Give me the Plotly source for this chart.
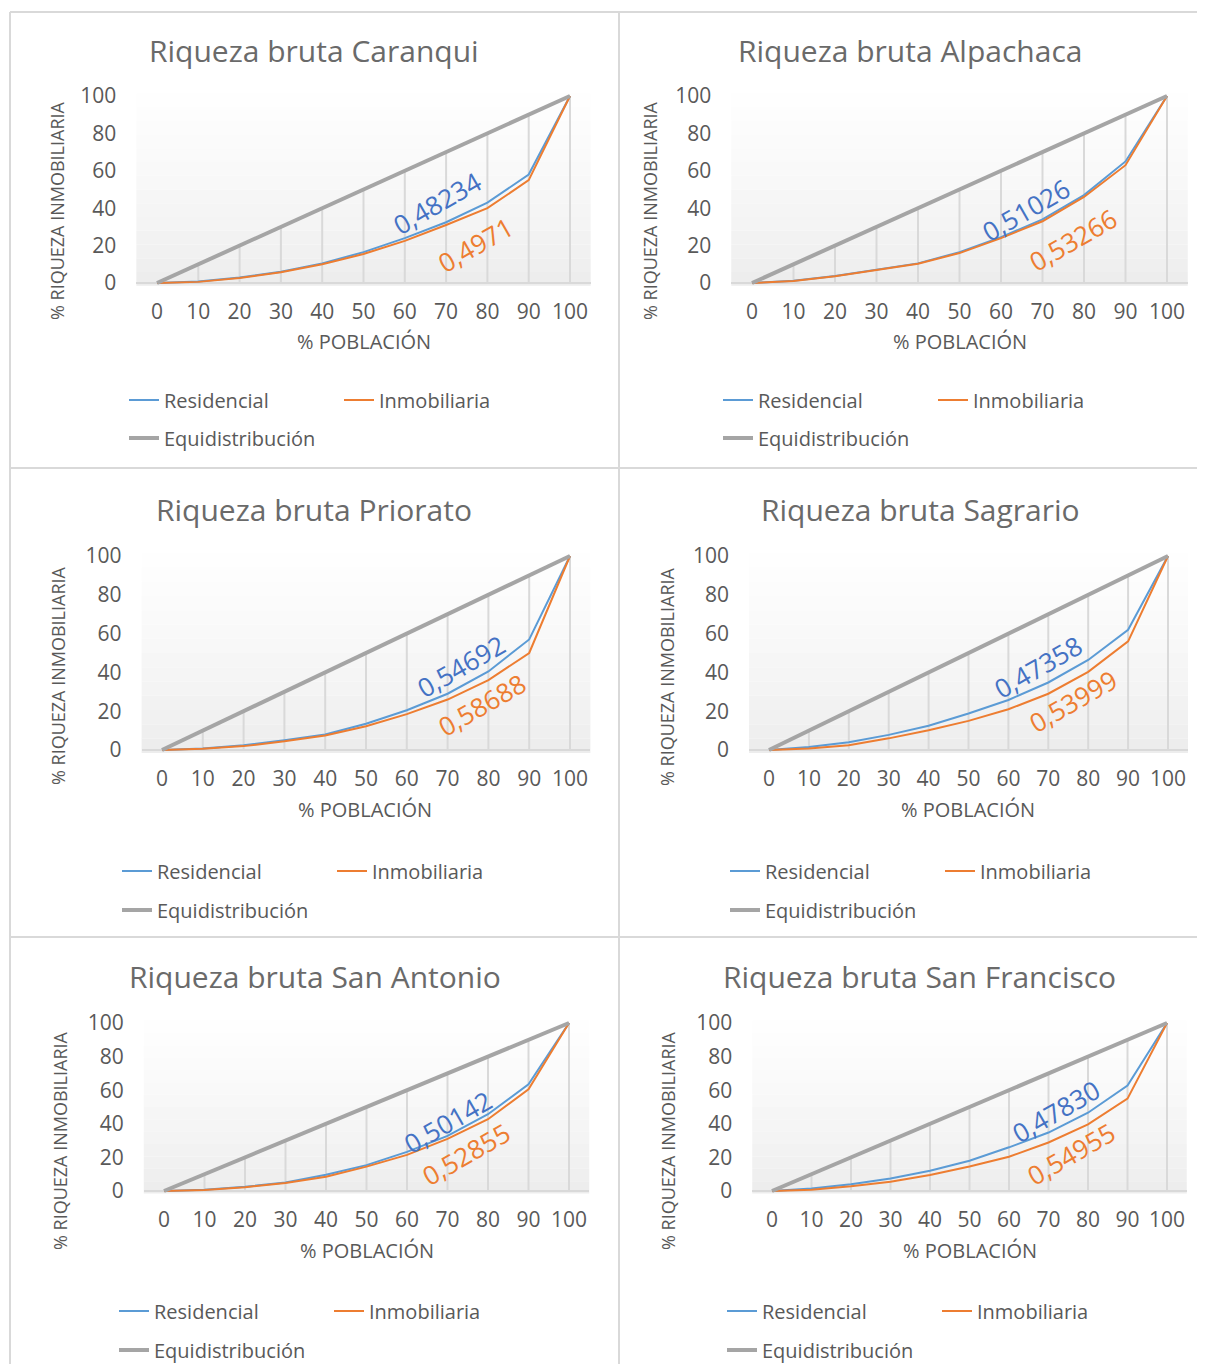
import plotly.graph_objects as go

# ---------------- DATA ----------------
x_pct = [0, 10, 20, 30, 40, 50, 60, 70, 80, 90, 100]
equi = [0, 10, 20, 30, 40, 50, 60, 70, 80, 90, 100]
y_ticks = [0, 20, 40, 60, 80, 100]

titles = ["Riqueza bruta Caranqui", "Riqueza bruta Alpachaca", "Riqueza bruta Priorato",
          "Riqueza bruta Sagrario", "Riqueza bruta San Antonio", "Riqueza bruta San Francisco"]

res_caranqui = [0, 0.8, 3.0, 6.0, 10.5, 16.5, 24.0, 32.5, 43.0, 58.0, 100]
inm_caranqui = [0, 0.6, 2.7, 5.8, 10.0, 15.5, 22.5, 31.0, 40.0, 55.0, 100]
res_alpachaca = [0, 1.2, 3.8, 7.0, 10.5, 16.5, 24.5, 34.0, 47.0, 65.0, 100]
inm_alpachaca = [0, 1.1, 3.6, 6.8, 10.3, 16.0, 24.0, 33.0, 46.0, 63.0, 100]
res_priorato = [0, 0.8, 2.4, 5.0, 8.0, 13.5, 20.5, 29.0, 40.5, 57.0, 100]
inm_priorato = [0, 0.6, 2.0, 4.5, 7.5, 12.2, 18.5, 26.0, 36.0, 50.0, 100]
res_sagrario = [0, 1.5, 4.0, 7.8, 12.5, 18.8, 25.8, 34.8, 46.4, 62.0, 100]
inm_sagrario = [0, 0.8, 2.5, 6.0, 10.2, 15.0, 21.0, 29.0, 40.3, 56.0, 100]
res_sanantonio = [0, 0.8, 2.5, 5.0, 9.7, 15.4, 23.3, 32.8, 45.7, 63.5, 100]
inm_sanantonio = [0, 0.6, 2.2, 4.8, 8.5, 14.5, 21.5, 31.0, 42.7, 60.5, 100]
res_sanfrancisco = [0, 1.5, 4.0, 7.5, 12.0, 18.0, 26.0, 34.8, 46.6, 62.8, 100]
inm_sanfrancisco = [0, 0.8, 2.8, 5.5, 9.5, 14.6, 20.4, 28.9, 39.7, 55.0, 100]

residencial = [res_caranqui, res_alpachaca, res_priorato, res_sagrario, res_sanantonio, res_sanfrancisco]
inmobiliaria = [inm_caranqui, inm_alpachaca, inm_priorato, inm_sagrario, inm_sanantonio, inm_sanfrancisco]

gini_res = ["0,48234", "0,51026", "0,54692", "0,47358", "0,50142", "0,47830"]
gini_inm = ["0,4971", "0,53266", "0,58688", "0,53999", "0,52855", "0,54955"]

# label positions (data coords) for gini values
gini_res_pos = [(67.8, 42.8), (66.0, 39.0), (73.3, 43.3), (67.4, 42.8), (70.0, 41.0), (72.0, 47.5)]
gini_inm_pos = [(77.0, 20.3), (77.3, 23.0), (78.4, 23.2), (76.2, 25.3), (74.6, 22.0), (75.6, 22.3)]

# ---------------- LAYOUT GEOMETRY (reference pixels) ----------------
OFF = 8                      # page body margin
W, H = 1205 - 2 * OFF, 1372 - 2 * OFF
# x0px, x100px, y0px, y100px
geom = [
    (157, 570, 283, 96), (752, 1167, 283, 96),
    (162, 570, 750, 556), (769, 1168, 750, 556),
    (164, 569, 1191, 1023), (772, 1167, 1191, 1023),
]
title_pos = [(314, 50), (910, 50), (314, 510), (920, 510), (315, 976), (919, 976)]
xtitle_pos = [(364, 341), (960, 341), (365, 810), (968, 810), (367, 1250), (970, 1250)]
ytitle_pos = [(57, 211), (650, 211), (58, 676), (667, 676), (60, 1141), (668, 1141)]
legend_pos = [(164, 400, 438), (758, 400, 438), (157, 871, 910), (765, 871, 910),
              (154, 1311, 1350), (762, 1311, 1350)]

TXT = "#595959"
FONT = "Open Sans"
C_RES = "#5B9BD5"
C_INM = "#ED7D31"
C_EQ = "#A5A5A5"
GRID = "#D9D9D9"

def pxx(p):
    return (p - OFF) / W

def pxy(p):
    return 1 - (p - OFF) / H

fig = go.Figure()
layout = dict(
    width=W, height=H,
    margin=dict(l=0, r=0, t=0, b=0, autoexpand=False),
    paper_bgcolor="white", plot_bgcolor="rgba(0,0,0,0)",
    font=dict(family=FONT, color=TXT),
    showlegend=True,
)
annotations = []
shapes = []

YLO, YHI = -1.5, 101.5
XLO, XHI = -5, 105

for i in range(6):
    k = i + 1
    xn = "x" if k == 1 else f"x{k}"
    yn = "y" if k == 1 else f"y{k}"
    x0p, x100p, y0p, y100p = geom[i]
    sx = (x100p - x0p) / 100.0
    sy = (y0p - y100p) / 100.0
    left = x0p + XLO * sx
    right = x0p + XHI * sx
    bottom = y0p - YLO * sy
    top = y0p - YHI * sy

    lg1 = f"legend{2 * i + 1}" if 2 * i + 1 > 1 else "legend"
    lg2 = f"legend{2 * i + 2}"

    # drop lines from 0 up to the equidistribution line
    dx, dy = [], []
    for xv, ev in zip(x_pct, equi):
        dx += [xv, xv, None]
        dy += [0, ev, None]
    fig.add_trace(go.Scatter(x=dx, y=dy, mode="lines", xaxis=xn, yaxis=yn,
                             line=dict(color=GRID, width=2), showlegend=False, hoverinfo="skip"))

    fig.add_trace(go.Scatter(x=x_pct, y=residencial[i], mode="lines", name="Residencial",
                             xaxis=xn, yaxis=yn, line=dict(color=C_RES, width=2),
                             legend=lg1, showlegend=True))
    fig.add_trace(go.Scatter(x=x_pct, y=inmobiliaria[i], mode="lines", name="Inmobiliaria",
                             xaxis=xn, yaxis=yn, line=dict(color=C_INM, width=2),
                             legend=lg1, showlegend=True))
    fig.add_trace(go.Scatter(x=x_pct, y=equi, mode="lines", name="Equidistribución",
                             xaxis=xn, yaxis=yn, line=dict(color=C_EQ, width=4),
                             legend=lg2, showlegend=True))

    layout["xaxis" if k == 1 else f"xaxis{k}"] = dict(
        domain=[pxx(left), pxx(right)], range=[XLO, XHI], anchor=yn,
        tickmode="array", tickvals=x_pct, ticktext=[str(v) for v in x_pct],
        showgrid=False, zeroline=False, showline=False, ticks="",
        tickfont=dict(size=21, color=TXT, family=FONT), ticklabelstandoff=11,
        fixedrange=True,
    )
    layout["yaxis" if k == 1 else f"yaxis{k}"] = dict(
        domain=[pxy(bottom), pxy(top)], range=[YLO, YHI], anchor=xn,
        tickmode="array", tickvals=y_ticks, ticktext=[str(v) for v in y_ticks],
        showgrid=False, zeroline=True, zerolinecolor=GRID, zerolinewidth=2,
        showline=False, ticks="",
        tickfont=dict(size=21, color=TXT, family=FONT), ticklabelstandoff=19,
        fixedrange=True,
    )

    # gradient background (white at top to light gray at bottom)
    nb = 14
    for b in range(nb):
        f0 = b / nb
        f1 = (b + 1) / nb
        g = int(round(236 + (255 - 236) * ((b + 0.5) / nb) ** 0.8))
        shapes.append(dict(type="rect", xref=f"{xn} domain", yref=f"{yn} domain",
                           x0=0, x1=1, y0=f0, y1=f1, layer="below",
                           fillcolor=f"rgb({g},{g},{g})", line=dict(width=0)))

    # titles
    tx, ty = title_pos[i]
    annotations.append(dict(text=titles[i], x=pxx(tx), y=pxy(ty), xref="paper", yref="paper",
                            xanchor="center", yanchor="middle", showarrow=False,
                            font=dict(size=30, color="#6a6a6a", family=FONT)))
    ax_, ay_ = xtitle_pos[i]
    annotations.append(dict(text="% POBLACIÓN", x=pxx(ax_), y=pxy(ay_), xref="paper", yref="paper",
                            xanchor="center", yanchor="middle", showarrow=False,
                            font=dict(size=20, color=TXT, family=FONT)))
    bx, by = ytitle_pos[i]
    annotations.append(dict(text="% RIQUEZA INMOBILIARIA", x=pxx(bx), y=pxy(by), xref="paper",
                            yref="paper", xanchor="center", yanchor="middle", showarrow=False,
                            textangle=-90, font=dict(size=18, color=TXT, family=FONT)))

    # gini labels
    gx, gy = gini_res_pos[i]
    annotations.append(dict(text=gini_res[i], x=gx, y=gy, xref=xn, yref=yn, showarrow=False,
                            textangle=-30, font=dict(size=26, color="#4472C4", family=FONT)))
    gx, gy = gini_inm_pos[i]
    annotations.append(dict(text=gini_inm[i], x=gx, y=gy, xref=xn, yref=yn, showarrow=False,
                            textangle=-30, font=dict(size=26, color=C_INM, family=FONT)))

    # legends
    lx, ly1, ly2 = legend_pos[i]
    common = dict(orientation="h", xanchor="left", yanchor="middle", xref="paper", yref="paper",
                  bgcolor="rgba(0,0,0,0)", font=dict(size=20, color=TXT, family=FONT),
                  itemclick=False, itemdoubleclick=False)
    layout[lg1] = dict(x=pxx(lx - 40), y=pxy(ly1), entrywidth=170, entrywidthmode="pixels", **common)
    layout[lg2] = dict(x=pxx(lx - 40), y=pxy(ly2), **common)

# panel borders
bc = "#D9D9D9"
for (x0, y0, x1, y1) in [(10, 12, 1205, 12), (10, 468, 1205, 468), (10, 937, 1205, 937),
                         (10, 12, 10, 1372), (619, 12, 619, 1372)]:
    shapes.append(dict(type="line", xref="paper", yref="paper", x0=pxx(x0), y0=pxy(y0),
                       x1=pxx(x1), y1=pxy(y1), line=dict(color=bc, width=2)))

layout["annotations"] = annotations
layout["shapes"] = shapes
fig.update_layout(**layout)
fig.write_html("out.html")
